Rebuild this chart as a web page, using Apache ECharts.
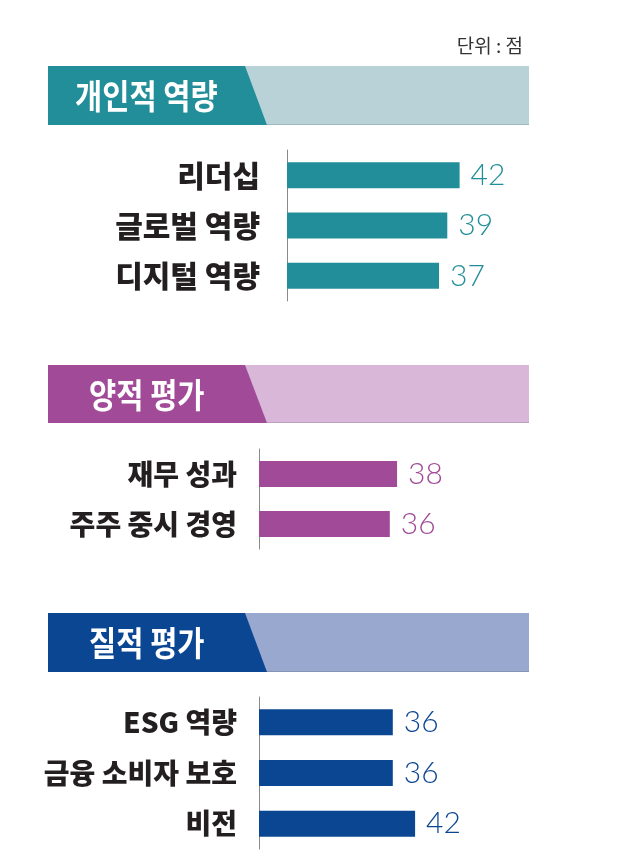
<!DOCTYPE html>
<html><head><meta charset="utf-8">
<script src="https://cdn.jsdelivr.net/npm/echarts@6/dist/echarts.min.js"></script>
<style>html,body{margin:0;padding:0;background:#fff}#c{width:630px;height:863px}</style>
</head><body><div id="c"></div>
<script>
// Data
const sectionTitles = ['개인적 역량', '양적 평가', '질적 평가'];
const cats1 = ['리더십', '글로벌 역량', '디지털 역량'];
const vals1 = [42, 39, 37];
const cats2 = ['재무 성과', '주주 중시 경영'];
const vals2 = [38, 36];
const cats3 = ['ESG 역량', '금융 소비자 보호', '비전'];
const vals3 = [36, 36, 42];
const unitText = '단위 : 점';

const dark = ['#228e99', '#a04a98', '#0b4693'];
const light = ['#b9d2d7', '#d8b7d8', '#98a8cf'];
const KR = '"Noto Sans CJK KR", "Noto Sans", sans-serif';
const NUM = 'Lato, "Noto Sans", sans-serif';

const layouts = [
  {top: 150, height: 151, left: 287, width: 246.6, margin: 27, fs: 30, hTop: 66, hBot: 125, tx: 75},
  {top: 449, height: 100, left: 259, width: 218, margin: 22, fs: 28, hTop: 365, hBot: 423, tx: 89},
  {top: 697, height: 152, left: 259, width: 223, margin: 22, fs: 28, hTop: 613, hBot: 672, tx: 89}
];
const catsAll = [cats1, cats2, cats3];
const valsAll = [vals1, vals2, vals3];

const grid = [], xAxis = [], yAxis = [], series = [], graphic = [];
layouts.forEach((L, i) => {
  grid.push({left: L.left, top: L.top, width: L.width, height: L.height, containLabel: false});
  xAxis.push({gridIndex: i, type: 'value', min: 0, max: 60, show: false});
  yAxis.push({
    gridIndex: i, type: 'category', inverse: true, data: catsAll[i],
    axisLine: {show: true, lineStyle: {color: '#8a8a8a', width: 1}},
    axisTick: {show: false},
    axisLabel: {margin: L.margin, fontSize: L.fs, fontWeight: 900, color: '#231f20', fontFamily: KR}
  });
  series.push({
    type: 'bar', xAxisIndex: i, yAxisIndex: i, data: valsAll[i], barWidth: 26,
    itemStyle: {color: dark[i]}, silent: true,
    label: {show: true, position: 'right', distance: 11, fontSize: 30, fontWeight: 300, color: dark[i], fontFamily: NUM}
  });
  // header banner
  graphic.push({type: 'rect', shape: {x: 48, y: L.hTop, width: 481, height: L.hBot - L.hTop}, style: {fill: light[i]}, z: 1});
  graphic.push({type: 'line', shape: {x1: 48, y1: L.hBot - 0.5, x2: 529, y2: L.hBot - 0.5}, style: {stroke: 'rgba(0,0,0,0.12)', lineWidth: 1}, z: 2});
  graphic.push({type: 'polygon', shape: {points: [[48, L.hTop], [245, L.hTop], [267, L.hBot], [48, L.hBot]]}, style: {fill: dark[i]}, z: 3});
  graphic.push({type: 'text', x: L.tx, y: (L.hTop + L.hBot) / 2 + 1, scaleX: 0.87, z: 4,
    style: {text: sectionTitles[i], fill: '#fff', font: 'bold 34px ' + KR, textVerticalAlign: 'middle', verticalAlign: 'middle'}});
});
graphic.push({type: 'text', x: 523, y: 46, z: 4,
  style: {text: unitText, fill: '#333', font: '19px ' + KR, textAlign: 'right', align: 'right', verticalAlign: 'middle', textVerticalAlign: 'middle'}});

const chart = echarts.init(document.getElementById('c'), null, {renderer: 'canvas'});
chart.setOption({animation: false, backgroundColor: '#fff', grid, xAxis, yAxis, series, graphic});
</script></body></html>
